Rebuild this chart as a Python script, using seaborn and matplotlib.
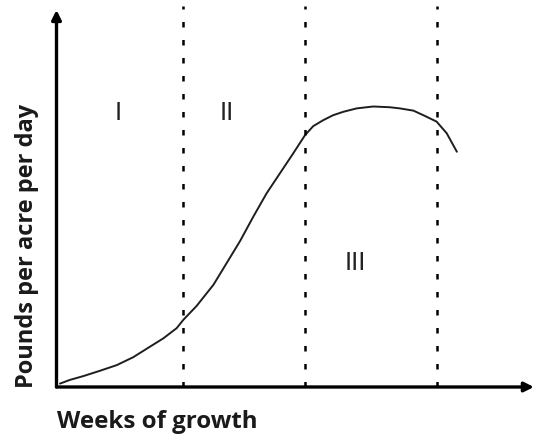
import numpy as np
import pandas as pd
import matplotlib
matplotlib.use("Agg")
import matplotlib.pyplot as plt
import seaborn as sns

# curve (weeks, pounds per acre per day, arbitrary units)
weeks = [0.11, 0.43, 0.85, 1.37, 1.90, 2.42, 2.95, 3.37, 3.79, 4.0, 4.42,
         4.95, 5.37, 5.79, 6.21, 6.63, 7.05, 7.47, 7.84, 8.10, 8.42, 8.73,
         9.05, 9.47, 9.99, 10.52, 10.83, 11.26, 11.57, 11.99, 12.31, 12.63]
pounds = [0.9, 1.9, 2.9, 4.3, 5.8, 7.9, 10.7, 12.9, 15.6, 17.8, 21.5,
          27.1, 32.9, 38.7, 45.2, 51.4, 56.7, 62.0, 66.8, 69.2, 70.8, 72.1,
          73.0, 73.9, 74.4, 74.2, 73.9, 73.3, 72.1, 70.4, 67.3, 62.4]

# phase boundaries and labels
boundaries = [4.0, 7.85, 12.0]
phase_names = ["I", "II", "III"]
phase_x = [1.94, 5.38, 9.42]
phase_y = [72.7, 72.7, 32.9]

dados = pd.DataFrame({"weeks": weeks, "pounds": pounds})

sns.set_theme(style="white")
plt.rcParams["font.family"] = ["Open Sans", "DejaVu Sans"]

fig = plt.figure(figsize=(5.34, 4.36), dpi=100)
ax = fig.add_axes([0.1058, 0.1124, 0.894, 0.8647])

sns.lineplot(data=dados, x="weeks", y="pounds", sort=False, ax=ax,
             color="#1e1e1e", lw=1.4)

for b in boundaries:
    ax.plot([b, b], [0, 101], color="black", lw=1.8,
            linestyle=(0, (2.2, 5.0)), clip_on=False)

for name, px, py in zip(phase_names, phase_x, phase_y):
    ax.text(px, py, name, ha="center", va="center", fontsize=17,
            color="#222222", family=["DejaVu Sans"])

ax.set_xlim(0, 15.06)
ax.set_ylim(0, 100)
ax.set_xticks([])
ax.set_yticks([])
ax.set_xlabel("")
ax.set_ylabel("")
for s in ax.spines.values():
    s.set_visible(False)

# axis arrows
ax.annotate("", xy=(0, 1.0), xytext=(0, 0), xycoords="axes fraction",
            arrowprops=dict(arrowstyle="-|>", lw=2.4, color="black",
                            mutation_scale=14, shrinkA=0, shrinkB=0))
ax.annotate("", xy=(1.0, 0), xytext=(0, 0), xycoords="axes fraction",
            arrowprops=dict(arrowstyle="-|>", lw=2.4, color="black",
                            mutation_scale=14, shrinkA=0, shrinkB=0))

fig.text(57 / 534, 8 / 436, "Weeks of growth", fontsize=17.4,
         fontweight="bold", color="#1a1a1a", ha="left", va="baseline")
fig.text(33 / 534, 48 / 436, "Pounds per acre per day", fontsize=17,
         fontweight="bold", color="#1a1a1a", rotation=90,
         rotation_mode="anchor", ha="left", va="baseline")

fig.savefig("out.png", dpi=100)
